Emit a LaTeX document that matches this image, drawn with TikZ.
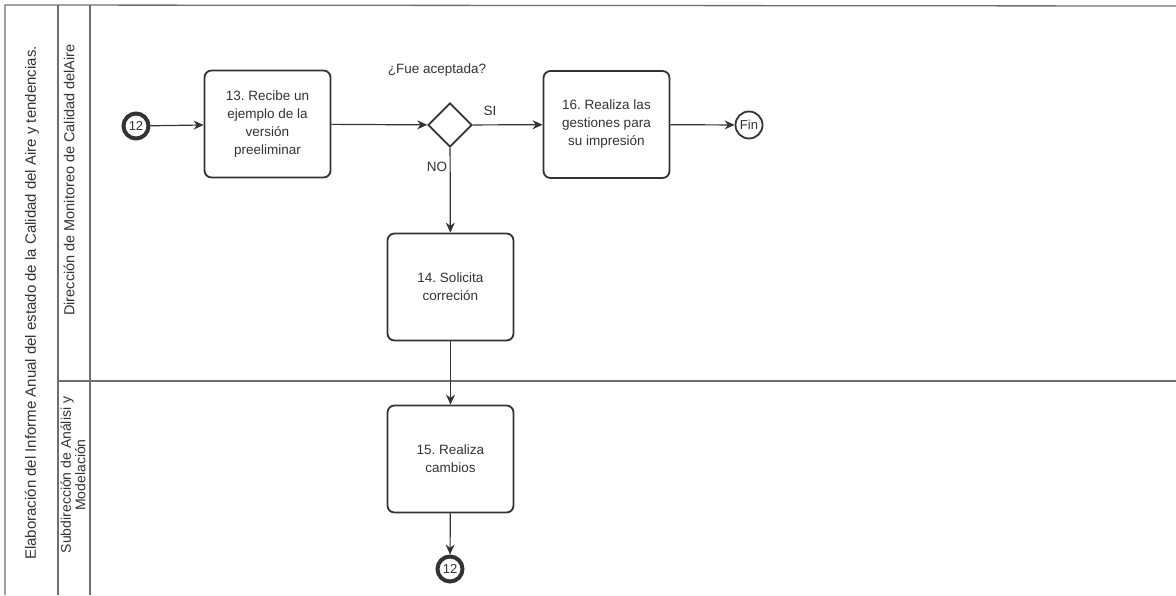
\documentclass[tikz,border=0pt]{standalone}
\usepackage{fontspec}
\setmainfont{Liberation Sans}
\usetikzlibrary{arrows.meta,shapes.geometric}
\definecolor{ink}{HTML}{333333}
\definecolor{rule}{HTML}{6E6E6E}
\frenchspacing
\tikzset{
  lane/.style={draw=rule, line width=1.3pt},
  task/.style={draw=ink, line width=1.8pt, rounded corners=7pt, minimum width=126pt,
    minimum height=107pt, align=center, inner sep=0pt,
    font=\fontsize{13.5}{18}\selectfont, text=ink},
  gate/.style={draw=ink, line width=1.8pt, diamond, minimum width=44pt, minimum height=44pt, inner sep=0pt},
  link/.style={draw=ink, line width=4pt, circle, minimum size=25pt, inner sep=0pt,
    font=\fontsize{13}{14}\selectfont, text=ink},
  finish/.style={draw=ink, line width=1.8pt, circle, minimum size=27pt, inner sep=0pt,
    font=\fontsize{13}{14}\selectfont, text=ink},
  flow/.style={draw=ink, line width=1.2pt, -{Stealth[length=10pt,width=9pt]}},
  lbl/.style={font=\fontsize{13.5}{16}\selectfont, text=ink, inner sep=0pt},
  lanetitle/.style={rotate=90, font=\fontsize{14.5}{15.5}\selectfont, text=ink, align=center, inner sep=0pt}
}
\begin{document}
\begin{tikzpicture}[x=1pt, y=-1pt]
\useasboundingbox (0,0) rectangle (1176,595);
\fill[white] (0,0) rectangle (1176,595);

% pool frame and lanes
\draw[lane] (5,595) -- (5,5) -- (1176,6);
\draw[lane] (58,5) -- (58,595);
\draw[lane] (90,5) -- (90,595);
\draw[lane] (58,381) -- (1176,381);

% pool and lane titles
\node[lanetitle, font=\fontsize{15}{16}\selectfont] (pool) at (32,303) {Elaboración del Informe Anual del estado de la Calidad del Aire y tendencias.};
\node[lanetitle] (laneA) at (69,180) {Dirección de Monitoreo de Calidad delAire};
\node[lanetitle, font=\fontsize{14}{14.5}\selectfont] (laneB) at (73,475) {Subdirección de Análisi y\\Modelación};

% process elements
\node[link] (start) at (136,126) {12};
\node[task] (t13) at (267.5,124) {13. Recibe un\\ejemplo de la\\versión\\preeliminar};
\node[gate] (g) at (450,125) {};
\node[task] (t16) at (606.5,124.5) {16. Realiza las\\gestiones para\\su impresión};
\node[finish] (fin) at (749,125) {Fin};
\node[task] (t14) at (450.5,287) {14. Solicita\\correción};
\node[task] (t15) at (450.5,459) {15. Realiza\\cambios};
\node[link] (back) at (450,569) {12};

% labels
\node[lbl] (q) at (437,70) {¿Fue aceptada?};
\node[lbl] (si) at (490,111) {SI};
\node[lbl] (no) at (437,167) {NO};

% sequence flows
\draw[flow] (start) -- (t13);
\draw[flow] (t13) -- (g);
\draw[flow] (g) -- (t16);
\draw[flow] (t16) -- (fin);
\draw[flow] (g) -- (t14);
\draw[flow] (t14) -- (t15);
\draw[flow] (t15) -- (back);
\end{tikzpicture}
\end{document}
